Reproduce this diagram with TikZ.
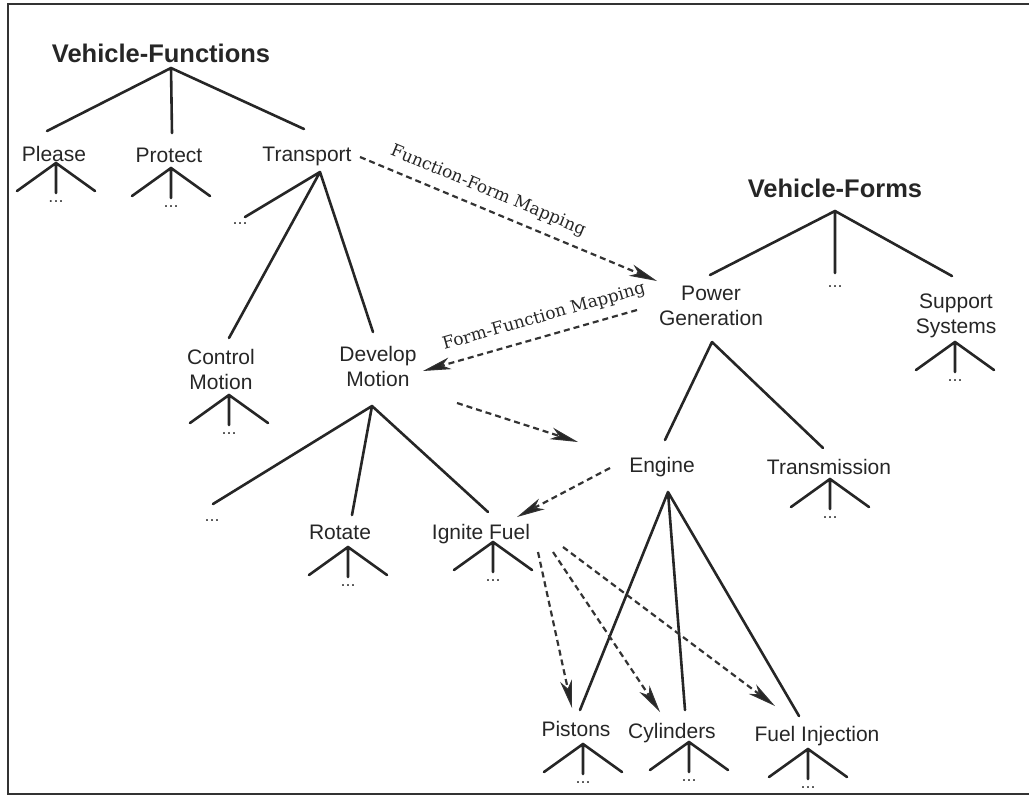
\documentclass[tikz,border=0pt]{standalone}
\usepackage{fontspec}
\setmainfont{Liberation Sans}
\newfontfamily\mapfont{DejaVu Serif}
\usetikzlibrary{arrows.meta}
\begin{document}
\begin{tikzpicture}[x=1pt,y=-1pt,
  tree/.style={line width=2.6pt, line cap=round, draw=black!85},
  lbl/.style={font=\fontsize{21}{25}\selectfont, inner sep=0pt, text=black!85},
  ttl/.style={font=\bfseries\fontsize{25.5}{28}\selectfont, inner sep=0pt, text=black!85},
  dots/.style={font=\fontsize{18}{20}\selectfont, inner sep=0pt, anchor=base, text=black!75},
  map/.style={line width=2.2pt, draw=black!80, dash pattern=on 6pt off 4pt,
    -{Stealth[length=28pt,width=12pt,inset=8pt,fill=black!85,line width=1pt]}},
  maplbl/.style={font=\mapfont\fontsize{17}{19}\selectfont, inner sep=0pt, text=black!85},
  legs/.pic={
    \draw[tree] (0,0) -- (-39,28) (0,0) -- (0,30) (0,0) -- (39,28);
    \node[dots] at (0,39.5) {...};
  }
]
\useasboundingbox (0,0) rectangle (1029,796);

% frame (open on the right)
\draw[line width=2.4pt, draw=black!80] (1029,4) -- (8,4) -- (8,794) -- (1029,794);

% ---------------- function hierarchy ----------------
\node[ttl, anchor=base] (vfun) at (161,62) {Vehicle-Functions};
\node[lbl, anchor=base] (please) at (54,161.5) {Please};
\node[lbl, anchor=base] (protect) at (169,162.5) {Protect};
\node[lbl, anchor=base] (transport) at (307,161.5) {Transport};
\node[dots] (tr-more) at (240,224) {...};
\node[lbl, align=center] (control) at (221,369.5) {Control\\Motion};
\node[lbl, align=center] (develop) at (378,366.5) {Develop\\Motion};
\node[dots] (dm-more) at (212,521) {...};
\node[lbl, anchor=base] (rotate) at (340,539.5) {Rotate};
\node[lbl, anchor=base] (ignite) at (481,539.5) {Ignite Fuel};

\coordinate (vfun-b) at (171,68);
\coordinate (please-t) at (47,131);
\coordinate (protect-t) at (172,133);
\coordinate (transport-t) at (304,129);
\draw[tree] (vfun-b) -- (please-t) (vfun-b) -- (protect-t) (vfun-b) -- (transport-t);

\coordinate (transport-b) at (320,172);
\coordinate (tr-more-t) at (245,217);
\coordinate (control-t) at (229,338);
\coordinate (develop-t) at (373,332);
\draw[tree] (transport-b) -- (tr-more-t) (transport-b) -- (control-t) (transport-b) -- (develop-t);

\coordinate (develop-b) at (372,406);
\coordinate (dm-more-t) at (213,504);
\coordinate (rotate-t) at (352,515);
\coordinate (ignite-t) at (488,512);
\draw[tree] (develop-b) -- (dm-more-t) (develop-b) -- (rotate-t) (develop-b) -- (ignite-t);

\pic at (56,163) {legs};
\pic at (171,168) {legs};
\pic at (229,395) {legs};
\pic at (348,547) {legs};
\pic at (493,542) {legs};

% ---------------- form hierarchy ----------------
\node[ttl, anchor=base] (vform) at (835,197.5) {Vehicle-Forms};
\node[lbl, align=center] (power) at (711,306) {Power\\Generation};
\node[dots] (vf-more) at (835,287) {...};
\node[lbl, align=center] (support) at (956,315.5) {Support\\Systems};
\node[lbl, anchor=base] (engine) at (662,472.5) {Engine};
\node[lbl, anchor=base] (trans) at (829,474.5) {Transmission};
\node[lbl, anchor=base] (pistons) at (576,736.5) {Pistons};
\node[lbl, anchor=base] (cyl) at (672,738.5) {Cylinders};
\node[lbl, anchor=base] (fuelinj) at (817,741.5) {Fuel Injection};

\coordinate (vform-b) at (835,211);
\coordinate (power-t) at (710,275);
\coordinate (vf-more-t) at (835,273);
\coordinate (support-t) at (952,276);
\draw[tree] (vform-b) -- (power-t) (vform-b) -- (vf-more-t) (vform-b) -- (support-t);

\coordinate (power-b) at (712,342);
\coordinate (engine-t) at (665,440);
\coordinate (trans-t) at (823,448);
\draw[tree] (power-b) -- (engine-t) (power-b) -- (trans-t);

\coordinate (engine-b) at (668,492);
\coordinate (pistons-t) at (580,710);
\coordinate (cyl-t) at (685,710);
\coordinate (fuelinj-t) at (799,716);
\draw[tree] (engine-b) -- (pistons-t) (engine-b) -- (cyl-t) (engine-b) -- (fuelinj-t);

\pic at (955,342) {legs};
\pic at (830,479) {legs};
\pic at (583,744) {legs};
\pic at (689,742) {legs};
\pic at (808,749) {legs};

% ---------------- mappings between the hierarchies ----------------
\coordinate (transport-o) at (360,157);
\coordinate (power-i) at (657,281);
\coordinate (power-o) at (637,310);
\coordinate (develop-i) at (423,371);
\coordinate (develop-o) at (457,403);
\coordinate (engine-i) at (578,442);
\coordinate (engine-o) at (610,468);
\coordinate (ignite-i) at (517,517);
\coordinate (ignite-o1) at (538,552);
\coordinate (ignite-o2) at (553,552);
\coordinate (ignite-o3) at (563,547);
\coordinate (pistons-i) at (572,708);
\coordinate (cyl-i) at (660,712);
\coordinate (fuelinj-i) at (775,706);

\draw[map] (transport-o) -- (power-i);
\node[maplbl, rotate=-22.7] (ffm) at (488,191) {Function-Form Mapping};
\draw[map] (power-o) -- (develop-i);
\node[maplbl, rotate=15.8] (fgm) at (544,317) {Form-Function Mapping};
\draw[map] (develop-o) -- (engine-i);
\draw[map] (engine-o) -- (ignite-i);
\draw[map] (ignite-o1) -- (pistons-i);
\draw[map] (ignite-o2) -- (cyl-i);
\draw[map] (ignite-o3) -- (fuelinj-i);
\end{tikzpicture}
\end{document}
